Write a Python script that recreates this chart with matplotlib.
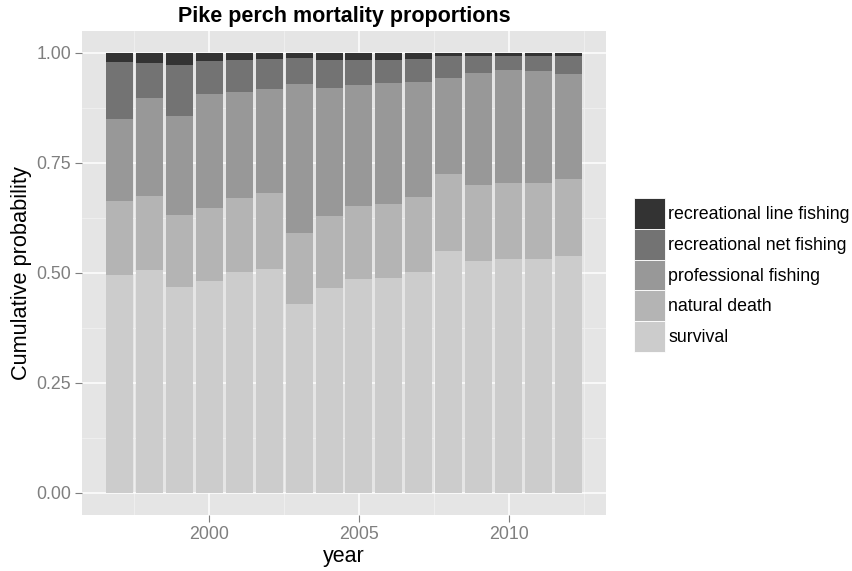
import numpy as np
import matplotlib
matplotlib.use("Agg")
import matplotlib.pyplot as plt
from matplotlib.patches import Patch
from matplotlib.ticker import MultipleLocator

plt.rcParams['font.family'] = ['Liberation Sans', 'DejaVu Sans']

# data (proportions per year, stacked bottom to top)
years = [1997, 1998, 1999, 2000, 2001, 2002, 2003, 2004,
         2005, 2006, 2007, 2008, 2009, 2010, 2011, 2012]
survival = [0.495, 0.506, 0.468, 0.481, 0.502, 0.508, 0.429, 0.465,
            0.486, 0.488, 0.502, 0.549, 0.527, 0.531, 0.531, 0.538]
natural_death = [0.1675, 0.168, 0.163, 0.166, 0.168, 0.173, 0.161, 0.164,
                 0.166, 0.168, 0.170, 0.175, 0.172, 0.173, 0.173, 0.175]
professional = [0.1865, 0.223, 0.225, 0.259, 0.241, 0.2365, 0.339, 0.291,
                0.275, 0.275, 0.261, 0.2185, 0.255, 0.257, 0.254, 0.2375]
rec_net = [0.1305, 0.0803, 0.117, 0.076, 0.073, 0.069, 0.058, 0.064,
           0.057, 0.053, 0.053, 0.050, 0.0385, 0.0315, 0.0345, 0.041]
rec_line = [0.0205, 0.0227, 0.027, 0.018, 0.016, 0.0134, 0.0134, 0.016,
            0.016, 0.016, 0.0134, 0.0075, 0.0075, 0.0075, 0.0075, 0.0085]

labels = ['survival', 'natural death', 'professional fishing',
          'recreational net fishing', 'recreational line fishing']
colors = ['#CCCCCC', '#B4B4B4', '#989898', '#737373', '#333333']

fig = plt.figure(figsize=(8.52, 5.71), dpi=100)
ax = fig.add_axes([82/852, 1 - 514.7/571, 524/852, 484/571])
ax.set_facecolor('#E5E5E5')

series = [survival, natural_death, professional, rec_net, rec_line]
bottom = np.zeros(len(years))
for vals, c in zip(series, colors):
    ax.bar(years, vals, width=0.9, bottom=bottom, color=c, linewidth=0, zorder=3)
    bottom = bottom + np.array(vals)

ax.set_xlim(1995.755, 2013.245)
ax.set_ylim(-0.05, 1.05)
ax.xaxis.set_major_locator(MultipleLocator(5))
ax.xaxis.set_minor_locator(MultipleLocator(2.5))
ax.yaxis.set_minor_locator(MultipleLocator(0.125))
ax.set_yticks([0, 0.25, 0.5, 0.75, 1.0])
ax.set_yticklabels(['0.00', '0.25', '0.50', '0.75', '1.00'])
ax.grid(which='major', color='white', linewidth=1.1, zorder=1)
ax.grid(which='minor', color='#F2F2F2', linewidth=0.5, zorder=1)
ax.set_axisbelow(True)
for s in ax.spines.values():
    s.set_visible(False)
ax.tick_params(which='major', length=5, width=0.8, color='#7F7F7F',
               labelcolor='#7F7F7F', labelsize=12.8, pad=3)
ax.tick_params(which='minor', length=0)

ax.set_xlabel('year', fontsize=15.5, labelpad=2)
ax.set_ylabel('Cumulative probability', fontsize=15.7, labelpad=3)
ax.set_title('Pike perch mortality proportions', fontsize=15.5, fontweight='bold', pad=6)

handles = [Patch(facecolor=c, edgecolor='white', linewidth=0.6) for c in colors[::-1]]
fig.legend(handles, labels[::-1], loc='center left',
           bbox_to_anchor=(634/852, 1 - 275/571), frameon=False,
           fontsize=12.8, handlelength=1.74, handleheight=2.3, labelspacing=0,
           handletextpad=0.2, borderpad=0, borderaxespad=0)

fig.savefig('out.png', dpi=100)
